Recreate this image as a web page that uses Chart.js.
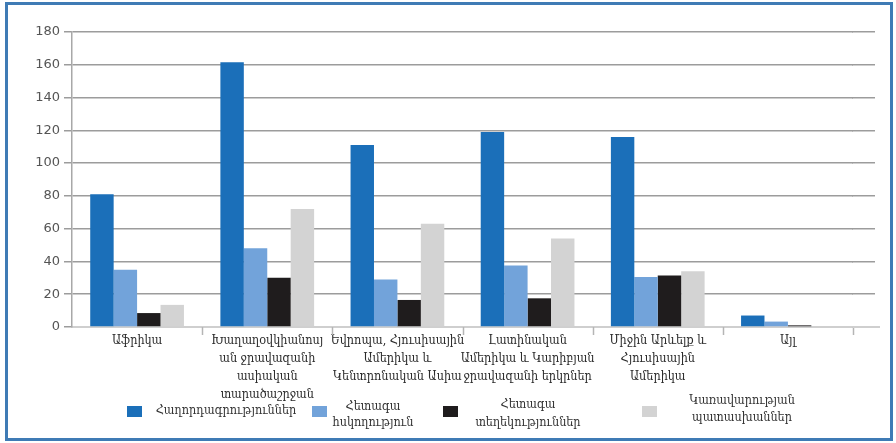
<!DOCTYPE html>
<html>
<head>
<meta charset="utf-8">
<script src="https://cdn.jsdelivr.net/npm/chart.js@4/dist/chart.umd.min.js"></script>
<style>
  html, body { margin: 0; padding: 0; background: #fff; }
  #wrap { width: 896px; height: 443px; position: relative; }
</style>
</head>
<body>
<div id="wrap"><canvas id="chart"></canvas></div>
<script>
// 지역 (categories)
const regions = [
    ['Աֆրիկա'],
    ['Խաղաղօվկիանոսյ', 'ան ջրավազանի', 'ասիական', 'տարածաշրջան'],
    ['Եվրոպա, Հյուսիսային', 'Ամերիկա և', 'Կենտրոնական Ասիա'],
    ['Լատինական', 'Ամերիկա և Կարիբյան', 'ջրավազանի երկրներ'],
    ['Միջին Արևելք և', 'Հյուսիսային', 'Ամերիկա'],
    ['Այլ']
];

// series
const seriesNames = [
    ['Հաղորդագրություններ'],
    ['Հետագա', 'հսկողություն'],
    ['Հետագա', 'տեղեկություններ'],
    ['Կառավարության', 'պատասխաններ']
];
const communications = [81, 161.5, 111, 119, 116, 7];
const followUp = [35, 48, 29, 37.5, 30.5, 3.3];
const furtherInfo = [8.5, 30, 16.5, 17.5, 31.5, 1];
const govReplies = [13.5, 72, 63, 54, 34, 0.5];

const yTicks = [0, 20, 40, 60, 80, 100, 120, 140, 160, 180];

const colors = ['#1b6fb9', '#72a3da', '#1f1c1d', '#d3d3d3'];
const armFont = '"DejaVu Serif Condensed", "DejaVu Serif", serif';

// frame, gridline extension, category ticks and legend
const decorPlugin = {
    id: 'decor',
    beforeDraw(chart) {
        const ctx = chart.ctx;
        ctx.save();
        ctx.strokeStyle = '#3f7bb5';
        ctx.lineWidth = 3;
        ctx.strokeRect(6.5, 3.5, 885, 436);
        ctx.restore();
    },
    beforeDatasetsDraw(chart) {
        const ctx = chart.ctx;
        const { right, bottom } = chart.chartArea;
        const y = chart.scales.y;
        const x = chart.scales.x;
        ctx.save();
        ctx.strokeStyle = '#9c9c9c';
        ctx.lineWidth = 1.5;
        yTicks.forEach(v => {
            if (v === 0) return;
            const py = Math.round(y.getPixelForValue(v) - 0.75) + 0.75;
            ctx.beginPath();
            ctx.moveTo(right - 1, py);
            ctx.lineTo(right + 22, py);
            ctx.stroke();
        });
        // category boundary ticks
        const half = (x.getPixelForValue(1) - x.getPixelForValue(0)) / 2;
        ctx.strokeStyle = '#b5b5b5';
        ctx.lineWidth = 1.5;
        for (let i = 0; i < regions.length; i++) {
            const px = Math.round(x.getPixelForValue(i) + half) + 0.5;
            ctx.beginPath();
            ctx.moveTo(px, bottom);
            ctx.lineTo(px, bottom + 8);
            ctx.stroke();
        }
        ctx.strokeStyle = '#cfcfcf';
        ctx.lineWidth = 2;
        ctx.beginPath();
        ctx.moveTo(right, bottom);
        ctx.lineTo(right + 27, bottom);
        ctx.stroke();
        ctx.restore();
    },
    afterDraw(chart) {
        const ctx = chart.ctx;
        const boxX = [127, 312, 443, 642];
        const textX = [226, 373, 528, 742];
        const textY = [[411], [407, 423], [405, 423], [401, 418]];
        ctx.save();
        ctx.font = '12.5px ' + armFont;
        ctx.textAlign = 'center';
        ctx.textBaseline = 'middle';
        seriesNames.forEach((lines, i) => {
            ctx.fillStyle = colors[i];
            ctx.fillRect(boxX[i], 406, 15, 11);
            ctx.fillStyle = '#333';
            lines.forEach((t, j) => ctx.fillText(t, textX[i], textY[i][j]));
        });
        ctx.restore();
    }
};

const ctx = document.getElementById('chart');
new Chart(ctx.getContext('2d'), {
    type: 'bar',
    data: {
        labels: regions,
        datasets: [
            { label: seriesNames[0].join(' '), data: communications, backgroundColor: colors[0] },
            { label: seriesNames[1].join(' '), data: followUp, backgroundColor: colors[1] },
            { label: seriesNames[2].join(' '), data: furtherInfo, backgroundColor: colors[2] },
            { label: seriesNames[3].join(' '), data: govReplies, backgroundColor: colors[3] }
        ]
    },
    options: {
        responsive: true,
        maintainAspectRatio: false,
        animation: false,
        devicePixelRatio: 1,
        datasets: { bar: { barPercentage: 1, categoryPercentage: 0.72 } },
        layout: { padding: { top: 32, right: 43, left: 0, bottom: 0 } },
        scales: {
            x: {
                afterFit: (scale) => { scale.height = 116; },
                grid: { display: false },
                border: { color: '#cfcfcf', width: 2 },
                ticks: {
                    padding: -3,
                    color: '#2b2b2b',
                    font: { family: armFont, size: 12.5, lineHeight: 1.44 },
                    maxRotation: 0,
                    autoSkip: false
                }
            },
            y: {
                min: 0,
                max: 180,
                afterFit: (scale) => { scale.width = 72; },
                afterBuildTicks: (scale) => { scale.ticks = yTicks.map(v => ({ value: v })); },
                grid: { color: '#9c9c9c', lineWidth: 1.5, tickLength: 8 },
                border: { color: '#a8a8a8', width: 1.5 },
                ticks: {
                    padding: 4,
                    color: '#555',
                    font: { family: 'DejaVu Sans', size: 13 }
                }
            }
        },
        plugins: {
            legend: { display: false },
            tooltip: { enabled: false }
        }
    },
    plugins: [decorPlugin]
});
</script>
</body>
</html>
